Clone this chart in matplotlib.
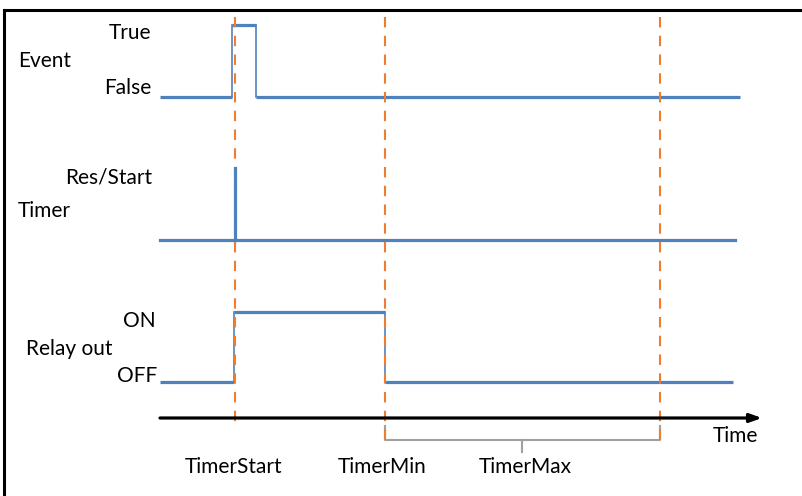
import matplotlib.pyplot as plt

plt.rcParams['font.family'] = ['Lato', 'DejaVu Sans']

# signal definitions: switching times (px on the time axis) and states
event_times = [160, 232, 256, 740]
event_states = [0, 1, 0, 0]
timer_times = [160, 235, 235, 735]
timer_states = [0, 1, 0, 0]
relay_times = [160, 234, 385, 733]
relay_states = [0, 1, 0, 0]

markers = [235, 385, 660]
marker_names = ['TimerStart', 'TimerMin', 'TimerMax']
name_x = [234, 382, 525]

blue = '#4F81BD'
orange = '#ED7D31'

fig = plt.figure(figsize=(8.02, 4.96), dpi=100)
ax = fig.add_axes([0, 0, 1, 1])
ax.set_xlim(0, 802)
ax.set_ylim(496, 0)
ax.axis('off')

# frame (left and top only)
ax.plot([4, 4], [496, 10], color='black', lw=2.2, solid_capstyle='projecting')
ax.plot([4, 802], [10, 10], color='black', lw=2.2, solid_capstyle='projecting')

# orange dashed markers
for m, bot in zip(markers, [428, 440, 440]):
    ax.plot([m, m], [17, bot], color=orange, lw=1.5, ls=(0, (5, 4)), zorder=3)


def draw_signal(times, states, lo, hi, vlw):
    ys = [lo if s == 0 else hi for s in states]
    for i in range(len(times) - 1):
        ax.plot([times[i], times[i + 1]], [ys[i], ys[i]], color=blue, lw=2.3,
                solid_capstyle='butt', zorder=2)
        if ys[i + 1] != ys[i]:
            ax.plot([times[i + 1], times[i + 1]], [ys[i], ys[i + 1]], color=blue,
                    lw=vlw, zorder=2)


draw_signal(event_times, event_states, 97, 25, 1.2)
# timer: reset/start pulse
ax.plot([timer_times[0], timer_times[-1]], [240, 240], color=blue, lw=2.3, zorder=2)
ax.plot([timer_times[1], timer_times[1]], [240, 168], color=blue, lw=2.3, zorder=4)
draw_signal(relay_times, relay_states, 382, 312, 1.2)

# labels
fs = 15
ax.text(151, 33, 'True', ha='right', va='center', fontsize=fs)
ax.text(151, 88, 'False', ha='right', va='center', fontsize=fs)
ax.text(18, 61, 'Event', ha='left', va='center', fontsize=fs)
ax.text(152, 177, 'Res/Start', ha='right', va='center', fontsize=fs)
ax.text(18, 211, 'Timer', ha='left', va='center', fontsize=fs)
ax.text(156, 321, 'ON', ha='right', va='center', fontsize=fs)
ax.text(26, 349, 'Relay out', ha='left', va='center', fontsize=fs)
ax.text(157, 376, 'OFF', ha='right', va='center', fontsize=fs)

# time axis
ax.annotate('', xy=(762, 418), xytext=(160, 418),
            arrowprops=dict(arrowstyle='-|>,head_length=0.7,head_width=0.25',
                            color='black', lw=2.3, shrinkA=0, shrinkB=0))
ax.text(735, 436, 'Time', ha='center', va='center', fontsize=fs)

# bracket for TimerMax
gray = '#A0A0A0'
ax.plot([385, 385, 660, 660], [426, 440, 440, 426], color=gray, lw=1.5)
ax.plot([522, 522], [440, 452], color=gray, lw=1.5)

for nm, nx in zip(marker_names, name_x):
    ax.text(nx, 467, nm, ha='center', va='center', fontsize=fs)

fig.savefig('out.png', dpi=100)
